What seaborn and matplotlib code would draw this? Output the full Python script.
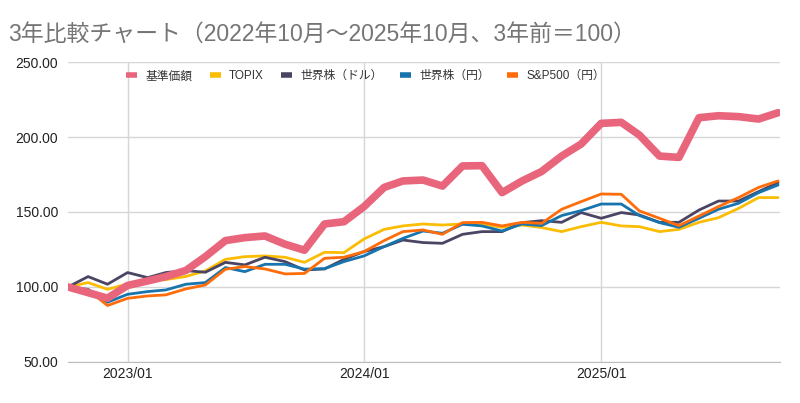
import numpy as np
import pandas as pd
import seaborn as sns
import matplotlib.pyplot as plt
import matplotlib.dates as mdates
from matplotlib.ticker import FormatStrFormatter

months = pd.date_range("2022-10-01", periods=37, freq="MS")

kijun = [100, 96.2, 92.5, 101, 104, 106.9, 111, 120.2, 130.9, 132.9, 134, 128.5, 124.5,
         142, 143.5, 153.6, 166.4, 170.7, 171.3, 167.3, 180.7, 180.9, 162.9, 170.7, 177,
         187.3, 195.3, 209.1, 209.8, 201.3, 187.3, 186.4, 212.9, 214.2, 213.6, 212, 216.2]
topix = [100, 102.9, 98.4, 102, 104, 104.9, 107, 110.7, 118.4, 120.2, 120.7, 119.8, 116.4,
         123.1, 122.9, 132, 138.4, 140.7, 142, 141.3, 142, 142, 139.8, 141.3, 139.6,
         136.9, 140.2, 143.1, 140.7, 140.2, 136.9, 138.4, 143.1, 146.2, 152.4, 159.6, 159.6]
world_usd = [100, 106.9, 101.8, 109.6, 106.2, 109.6, 110.9, 109.8, 116.4, 114.7, 119.8, 116.9, 111.3,
             112, 118.4, 123.6, 126.9, 131.3, 129.6, 129.1, 135.1, 136.9, 136.9, 142.9, 144.2,
             143.1, 149.6, 145.8, 149.6, 148, 143.1, 143.1, 151.3, 157.3, 157.3, 163.6, 169.6]
world_jpy = [100, 98.4, 89.8, 95.1, 96.9, 98, 101.8, 102.9, 112.9, 110.2, 115.1, 115.1, 111.9,
             112.2, 116.9, 120.7, 126.9, 132.4, 137.3, 135.8, 141.8, 140.7, 137.3, 142, 140.9,
             147.6, 150.9, 155.3, 155.3, 147.6, 142.9, 139.8, 145.8, 151.8, 155.8, 162.9, 168]
sp500_jpy = [100, 98, 87.6, 92.4, 94, 94.7, 98.7, 101.3, 111.8, 113.6, 112, 108.7, 109,
             119.1, 119.8, 123.6, 130.9, 136.9, 138, 135.1, 142.9, 143.1, 140.7, 143.1, 142.4,
             151.8, 156.9, 162, 161.8, 150.7, 145.8, 140.9, 147.3, 153.6, 159.6, 166.4, 170.7]

series = {
    "基準価額": kijun,
    "TOPIX": topix,
    "世界株（ドル）": world_usd,
    "世界株（円）": world_jpy,
    "S&P500（円）": sp500_jpy,
}
colors = ["#E8657C", "#FBBC04", "#4B4563", "#1774AD", "#FF6D0A"]
widths = [5.5, 2, 2, 2, 2]

sns.set_style("white")
plt.rcParams["font.family"] = ["Liberation Sans", "Noto Sans CJK JP", "DejaVu Sans"]

df = pd.DataFrame(series)
df["month"] = months

fig = plt.figure(figsize=(8, 4.03), dpi=100)
ax = fig.add_axes([0.085, 0.102, 0.89, 0.744])

# draw thin lines first, the fund line on top
order = [1, 2, 3, 4, 0]
for i in order:
    name = list(series.keys())[i]
    sns.lineplot(data=df, x="month", y=name, ax=ax, color=colors[i],
                 linewidth=widths[i], label=name, zorder=3 + (i == 0))

ax.set_ylim(50, 250)
ax.set_yticks([50, 100, 150, 200, 250])
ax.yaxis.set_major_formatter(FormatStrFormatter("%.2f"))
ax.set_xlim(months[0], months[-1] + pd.Timedelta(days=3))
ax.set_xticks(pd.to_datetime(["2023-01-01", "2024-01-01", "2025-01-01"]))
ax.xaxis.set_major_formatter(mdates.DateFormatter("%Y/%m"))
ax.set_xlabel("")
ax.set_ylabel("")
ax.grid(True, color="#d6d6d6", linewidth=1)
for s in ["top", "right", "left"]:
    ax.spines[s].set_visible(False)
ax.spines["bottom"].set_color("#bdbdbd")
ax.tick_params(axis="both", length=0, labelsize=10, colors="#222222")
ax.tick_params(axis="y", pad=7)

handles, labels = ax.get_legend_handles_labels()
idx = [labels.index(n) for n in series.keys()]
handles = [handles[k] for k in idx]
labels = [labels[k] for k in idx]
leg = ax.legend(handles, labels, ncol=5, loc="upper left", bbox_to_anchor=(0.067, 1.008),
                frameon=False, handlelength=0.9, handletextpad=0.7, columnspacing=1.5,
                fontsize=8.5)
for h in leg.get_lines():
    h.set_linewidth(4)
    h.set_solid_capstyle("butt")
for t in leg.get_texts():
    t.set_color("#333333")

fig.text(0.01, 0.898, "3年比較チャート（2022年10月～2025年10月、3年前＝100）",
         fontsize=16.5, color="#757575")

fig.savefig("out.png", dpi=100)
